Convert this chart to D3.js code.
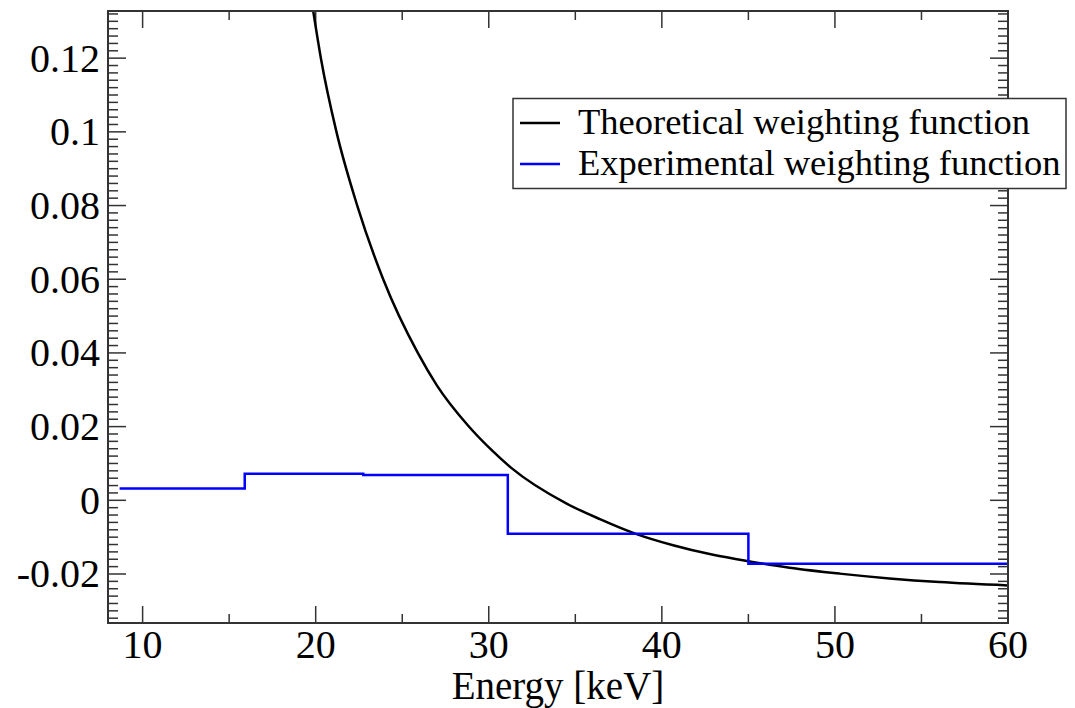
<!DOCTYPE html>
<html>
<head>
<meta charset="utf-8">
<script src="https://cdn.jsdelivr.net/npm/d3@7"></script>
<style>
  body { margin: 0; background: #fff; }
  svg { display: block; }
  text { font-family: "Liberation Serif", "Times New Roman", serif; fill: #000; }
</style>
</head>
<body>
<div id="chart"></div>
<script>
// Theoretical weighting function [energy keV, value]
const theoretical = [
  [19.85, 0.1330], [20.30, 0.1200], [21.20, 0.1000], [22.40, 0.0800],
  [23.90, 0.0600], [25.90, 0.0400], [27.00, 0.0312], [28.80, 0.0203],
  [30.08, 0.0140], [31.30, 0.0088], [34.50, -0.0009], [36.42, -0.0051],
  [38.50, -0.0091], [40.65, -0.0122], [42.96, -0.0148], [45.08, -0.0166],
  [47.38, -0.0183], [50.27, -0.0199], [53.15, -0.0212], [56.04, -0.0222],
  [60.00, -0.0231]
];

// Experimental weighting function (step edges and values)
const stepEdges = [8.67, 15.9, 22.75, 31.1, 45.0, 60];
const stepValues = [0.0032, 0.0072, 0.0069, -0.0091, -0.0172];

const xTicks = [10, 20, 30, 40, 50, 60];
const yTicks = [-0.02, 0, 0.02, 0.04, 0.06, 0.08, 0.1, 0.12];
const yTickLabels = ["-0.02", "0", "0.02", "0.04", "0.06", "0.08", "0.1", "0.12"];

const seriesNames = ["Theoretical weighting function", "Experimental weighting function"];
const seriesColors = ["#000000", "#0000ff"];

const width = 1075, height = 708;
const margin = { left: 108, top: 11, right: 67, bottom: 85 };
const innerW = width - margin.left - margin.right;
const innerH = height - margin.top - margin.bottom;

const svg = d3.select('#chart').append('svg')
  .attr('width', width)
  .attr('height', height);

const x = d3.scaleLinear().domain([8, 60]).range([margin.left, margin.left + innerW]);
const y = d3.scaleLinear().domain([-0.0333, 0.1328]).range([margin.top + innerH, margin.top]);

const g = svg.append('g');

// clip to plot area
svg.append('clipPath').attr('id', 'clip')
  .append('rect')
  .attr('x', margin.left).attr('y', margin.top)
  .attr('width', innerW).attr('height', innerH);

// Minor + major ticks, pointing inward on all four sides
const xMinor = d3.range(10, 60, 5).filter(d => d % 10 !== 0);
const yMinor = d3.range(-32, 133, 2).map(d => d / 1000).filter(d => Math.round(d * 1000) % 20 !== 0);

const yBot = margin.top + innerH, yTop = margin.top;
const xLeft = margin.left, xRight = margin.left + innerW;

const ticks = g.append('g').attr('stroke', '#333').attr('stroke-width', 1.5);

function vTicks(vals, len) {
  vals.forEach(v => {
    ticks.append('line').attr('x1', x(v)).attr('x2', x(v)).attr('y1', yBot).attr('y2', yBot - len);
    ticks.append('line').attr('x1', x(v)).attr('x2', x(v)).attr('y1', yTop).attr('y2', yTop + len);
  });
}
function hTicks(vals, len) {
  vals.forEach(v => {
    ticks.append('line').attr('y1', y(v)).attr('y2', y(v)).attr('x1', xLeft).attr('x2', xLeft + len);
    ticks.append('line').attr('y1', y(v)).attr('y2', y(v)).attr('x1', xRight).attr('x2', xRight - len);
  });
}
vTicks(xTicks, 17);
vTicks(xMinor, 9);
hTicks(yTicks, 18);
hTicks(yMinor, 10);

// Series
const plot = g.append('g').attr('clip-path', 'url(#clip)');

const curveLine = d3.line()
  .x(d => x(d[0]))
  .y(d => y(d[1]))
  .curve(d3.curveMonotoneX);

plot.append('path')
  .datum(theoretical)
  .attr('fill', 'none')
  .attr('stroke', seriesColors[0])
  .attr('stroke-width', 2.5)
  .attr('d', curveLine);

const steps = stepEdges.map((e, i) => [e, stepValues[Math.min(i, stepValues.length - 1)]]);
const stepLine = d3.line()
  .x(d => x(d[0]))
  .y(d => y(d[1]))
  .curve(d3.curveStepAfter);

plot.append('path')
  .datum(steps)
  .attr('fill', 'none')
  .attr('stroke', seriesColors[1])
  .attr('stroke-width', 2.5)
  .attr('d', stepLine);

// Frame
g.append('rect')
  .attr('x', xLeft).attr('y', yTop)
  .attr('width', innerW).attr('height', innerH)
  .attr('fill', 'none')
  .attr('stroke', '#333')
  .attr('stroke-width', 2);

// Tick labels
g.selectAll('.xl').data(xTicks).join('text')
  .attr('x', d => x(d))
  .attr('y', 658)
  .attr('text-anchor', 'middle')
  .attr('font-size', 40)
  .text(d => d);

g.selectAll('.yl').data(yTicks).join('text')
  .attr('x', 100)
  .attr('y', d => y(d) + 13.5)
  .attr('text-anchor', 'end')
  .attr('font-size', 40)
  .text((d, i) => yTickLabels[i]);

// Axis title
g.append('text')
  .attr('x', 558)
  .attr('y', 699)
  .attr('text-anchor', 'middle')
  .attr('font-size', 39)
  .text('Energy [keV]');

// Legend
const legend = g.append('g');
legend.append('rect')
  .attr('x', 513).attr('y', 98.5)
  .attr('width', 553).attr('height', 90)
  .attr('fill', '#fff')
  .attr('stroke', '#333')
  .attr('stroke-width', 1.5);

seriesNames.forEach((name, i) => {
  const ly = 123 + i * 41;
  legend.append('line')
    .attr('x1', 520).attr('x2', 560)
    .attr('y1', ly).attr('y2', ly)
    .attr('stroke', seriesColors[i])
    .attr('stroke-width', 2.5);
  legend.append('text')
    .attr('x', 578)
    .attr('y', ly + 11)
    .attr('font-size', 36.5)
    .text(name);
});
</script>
</body>
</html>
